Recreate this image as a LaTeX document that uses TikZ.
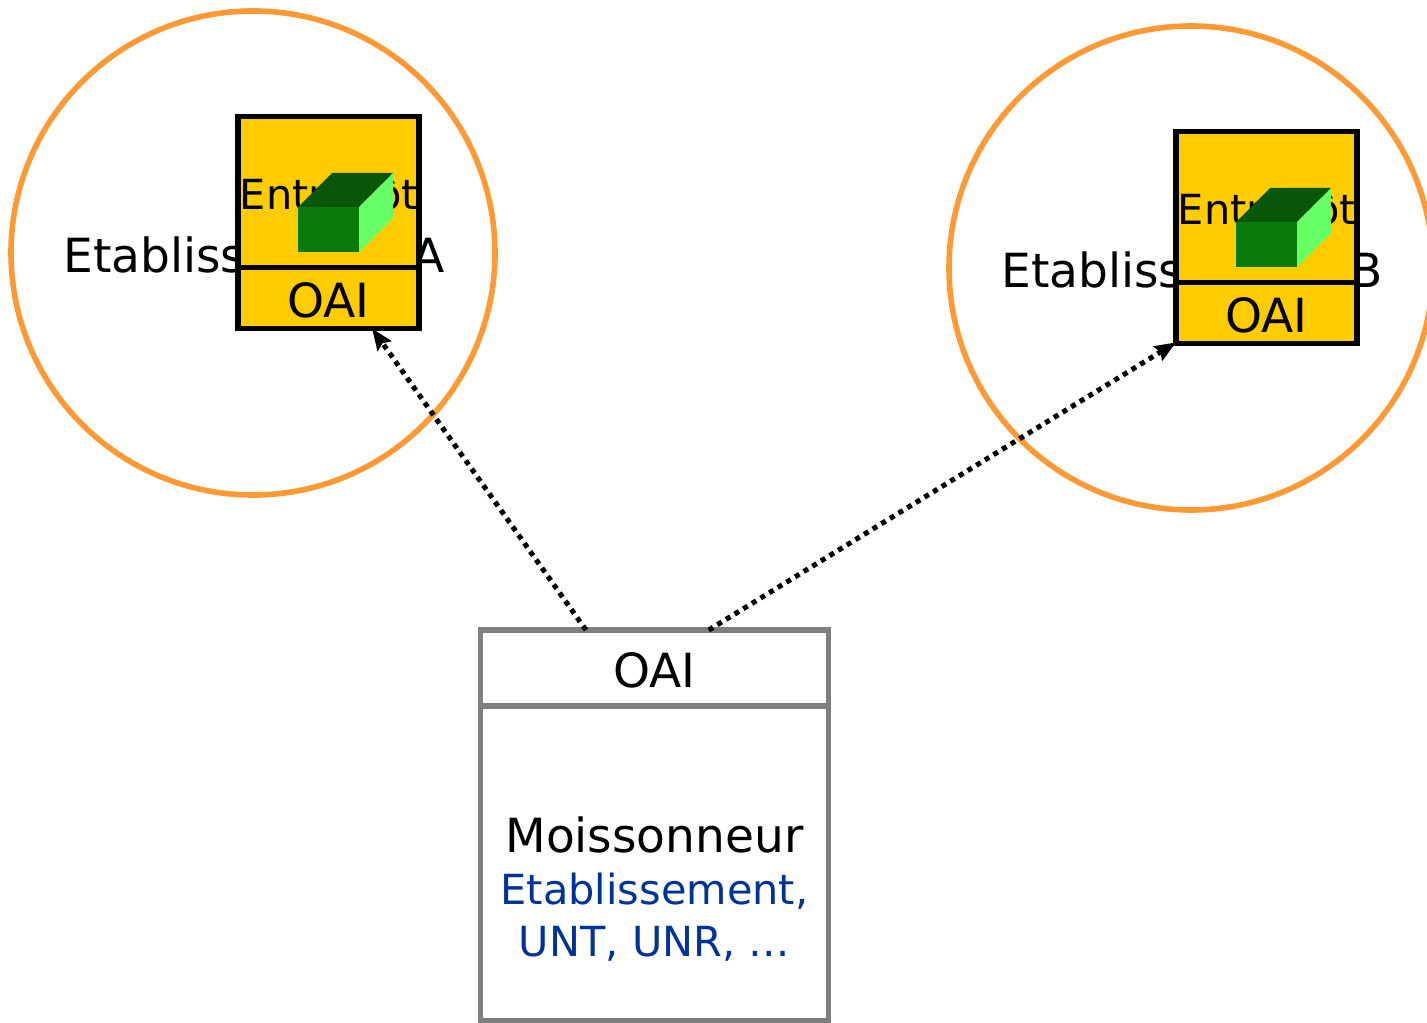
\documentclass[tikz,border=0pt]{standalone}
\usepackage{fontspec}
\setmainfont{DejaVu Sans}
\usetikzlibrary{arrows.meta}

\definecolor{ringorange}{HTML}{FF9933}
\definecolor{storeyellow}{HTML}{FFCC00}
\definecolor{harvgray}{HTML}{7F7F7F}
\definecolor{kindblue}{HTML}{003399}
\definecolor{cubefront}{HTML}{0A7A0A}
\definecolor{cubetop}{HTML}{085708}
\definecolor{cubeside}{HTML}{66FF66}

\begin{document}
\begin{tikzpicture}[x=0.75pt,y=-0.75pt,
    ring/.style={
% The shape:
circle,
% The size:
minimum size=363pt,
inner sep=0pt, outer sep=0pt,
% The border:
line width=4.2pt, draw=ringorange,
},
    store/.style={
% The shape:
rectangle,
% The size:
minimum width=135.75pt,
inner sep=0pt, outer sep=0pt,
% The border:
line width=4pt, draw=black, fill=storeyellow,
},
    harv/.style={
% The shape:
rectangle,
% The size:
minimum width=261pt,
inner sep=0pt, outer sep=0pt,
% The border:
line width=4.2pt, draw=harvgray, fill=white,
},
    big/.style={font=\fontsize{35.3}{42}\selectfont, anchor=base, inner sep=0pt},
    small/.style={font=\fontsize{31.1}{39}\selectfont, anchor=base, inner sep=0pt},
    link/.style={-{Stealth[length=16pt,width=12.5pt,inset=2.5pt]}, line width=3.8pt, dash pattern=on 3.8pt off 3.8pt},
]
  \useasboundingbox (0, 0) rectangle (1427, 1023);

  % left side
  \node[ring] (ringA) at (253, 253) {};
  \node[big] (etabA) at (254, 273) {Etablissement A};
  \node[store, minimum height=113.25pt] (storeA) at (328.5, 192) {};
  \node[store, minimum height=45.75pt] (oaiA) at (328.5, 298) {};
  \node[small] (entrepotA) at (329, 210) {Entrepôt};
  \node[big] (oaiTextA) at (328.5, 317.5) {OAI};
  \fill[cubetop] (298, 207) -- (332, 173) -- (393, 173) -- (359, 207) -- cycle;
  \fill[cubeside] (359, 207) -- (393, 173) -- (393, 218) -- (359, 252) -- cycle;
  \fill[cubefront] (298, 207) rectangle (359, 252);

  % right side
  \node[ring] (ringB) at (1191, 268) {};
  \node[big] (etabB) at (1192, 288) {Etablissement B};
  \node[store, minimum height=113.25pt] (storeB) at (1266.5, 207) {};
  \node[store, minimum height=45.75pt] (oaiB) at (1266.5, 313) {};
  \node[small] (entrepotB) at (1267, 225) {Entrepôt};
  \node[big] (oaiTextB) at (1266.5, 332.5) {OAI};
  \fill[cubetop] (1236, 222) -- (1270, 188) -- (1331, 188) -- (1297, 222) -- cycle;
  \fill[cubeside] (1297, 222) -- (1331, 188) -- (1331, 233) -- (1297, 267) -- cycle;
  \fill[cubefront] (1236, 222) rectangle (1297, 267);

  % harvester
  \node[harv, minimum height=57pt] (harvOai) at (654.5, 668) {};
  \node[harv, minimum height=236.25pt] (harvBody) at (654.5, 863.5) {};
  \node[big] (oaiTextH) at (654.5, 687.5) {OAI};
  \node[big] (harvName) at (654.5, 852) {Moissonneur};
  \node[small, kindblue] (kindOne) at (654.5, 904) {Etablissement,};
  \node[small, kindblue] (kindTwo) at (654.5, 956) {UNT, UNR, …};

  \draw [link] (harvOai.151) -- (oaiA.-35);
  \draw [link] (harvOai.35.6) -- (oaiB.198.4);

\end{tikzpicture}
\end{document}
